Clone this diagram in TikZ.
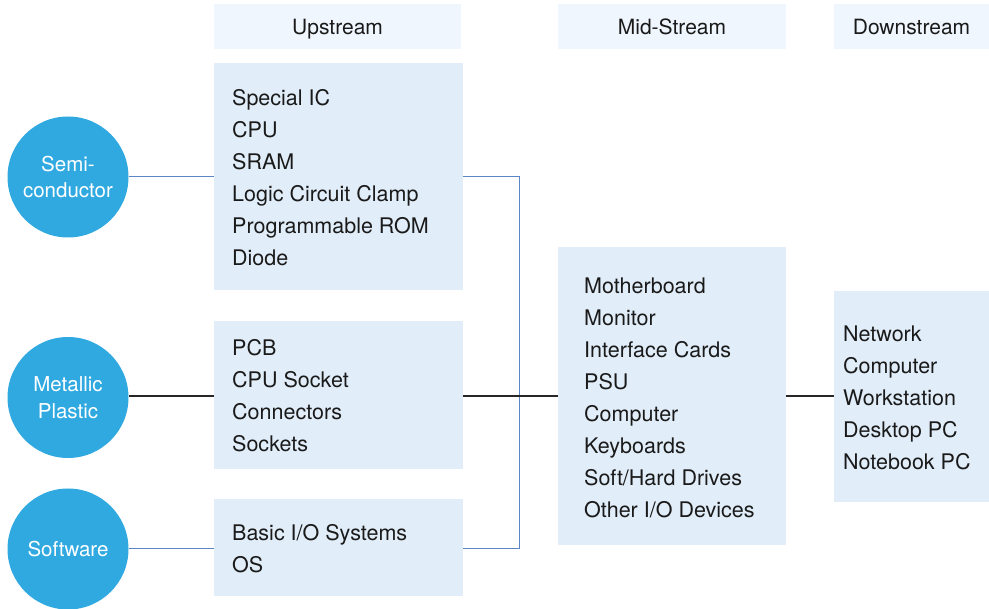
\documentclass[tikz,border=0pt]{standalone}
\usepackage{fontspec}
\setmainfont{TeX Gyre Heros}
\definecolor{circblue}{HTML}{30A9E1}
\definecolor{boxfill}{HTML}{E1EDF8}
\definecolor{headfill}{HTML}{EFF6FD}
\definecolor{linkblue}{HTML}{5B86C5}
\definecolor{txt}{HTML}{1A1A1A}
\begin{document}
\begin{tikzpicture}[x=1pt,y=-1pt,
  headbox/.style={fill=headfill,draw=none,inner sep=0pt,text height=15.5pt,text depth=0pt,text=txt,font=\fontsize{21}{24}\selectfont},
  listbox/.style={fill=boxfill,draw=none,inner sep=0pt},
  listtext/.style={anchor=west,align=left,inner sep=0pt,text=txt,font=\fontsize{21.5}{32}\selectfont},
  source/.style={circle,fill=circblue,draw=none,minimum size=121pt,inner sep=0pt,align=center,text=white,font=\fontsize{20.5}{27}\selectfont},
  bluelink/.style={draw=linkblue,line width=1.1pt},
  blacklink/.style={draw=black!85,line width=1.1pt}]
\useasboundingbox (0,0) rectangle (989,609);
% headers
\node[headbox,minimum width=247pt,minimum height=45pt] (hup) at (337.5,26.5) {Upstream};
\node[headbox,minimum width=228pt,minimum height=45pt] (hmid) at (672,26.5) {Mid-Stream};
\node[headbox,minimum width=155pt,minimum height=45pt] (hdown) at (911.5,26.5) {Downstream};
% boxes
\node[listbox,minimum width=249pt,minimum height=227pt] (b1) at (338.5,176.5) {};
\node[listbox,minimum width=249pt,minimum height=148pt] (b2) at (338.5,395) {};
\node[listbox,minimum width=249pt,minimum height=97pt] (b3) at (338.5,547.5) {};
\node[listbox,minimum width=228pt,minimum height=298pt] (bm) at (672,396) {};
\node[listbox,minimum width=155pt,minimum height=211pt] (bd) at (911.5,396.5) {};
% texts
\node[listtext] (t1) at (232,178) {Special IC\\CPU\\SRAM\\Logic Circuit Clamp\\Programmable ROM\\Diode};
\node[listtext] (t2) at (232,396) {PCB\\CPU Socket\\Connectors\\Sockets};
\node[listtext] (t3) at (232,549) {Basic I/O Systems\\OS};
\node[listtext] (tm) at (584,398) {Motherboard\\Monitor\\Interface Cards\\PSU\\Computer\\Keyboards\\Soft/Hard Drives\\Other I/O Devices};
\node[listtext] (td) at (843,398) {Network\\Computer\\Workstation\\Desktop PC\\Notebook PC};
% circles
\node[source] (c1) at (68,177) {Semi-\\conductor};
\node[source] (c2) at (68,397.5) {Metallic\\Plastic};
\node[source] (c3) at (68,549) {Software};
% connectors
\coordinate (j1) at (519.5,176.7);
\coordinate (j3) at (519.5,548.5);
\coordinate (jm) at (519.5,396);
\draw[bluelink] (c1.east |- 0,176.7) -- (b1.west |- 0,176.7);
\draw[blacklink] (c2.east |- 0,396) -- (b2.west |- 0,396);
\draw[bluelink] (c3.east |- 0,548.5) -- (b3.west |- 0,548.5);
\draw[bluelink] (b1.east |- j1) -- (j1) -- (j3) -- (b3.east |- j3);
\draw[blacklink] (b2.east |- jm) -- (bm.west |- jm);
\draw[blacklink] (bm.east |- jm) -- (bd.west |- jm);
\end{tikzpicture}
\end{document}
